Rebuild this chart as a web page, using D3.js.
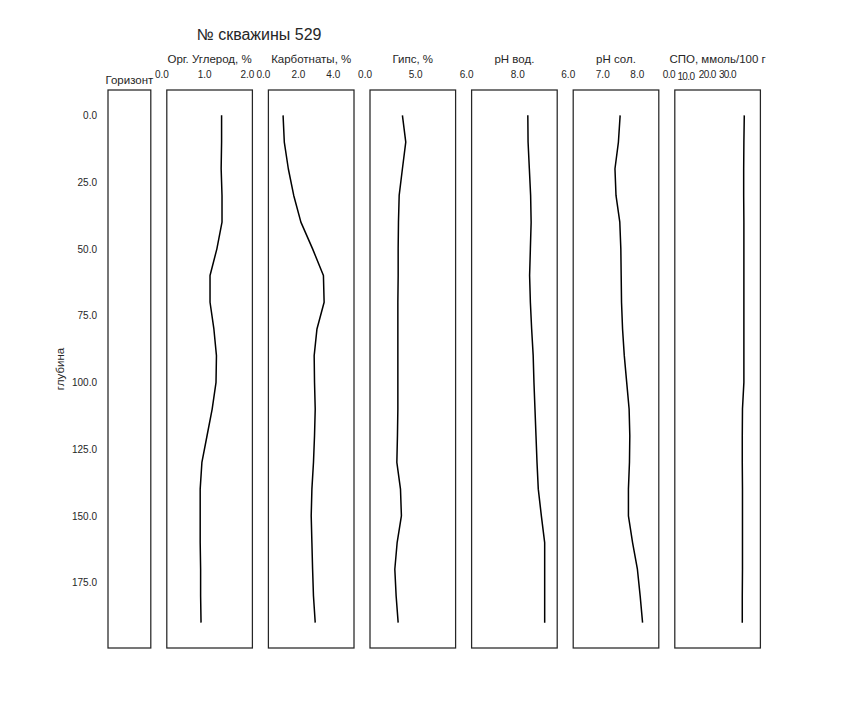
<!DOCTYPE html>
<html>
<head>
<meta charset="utf-8">
<script src="https://cdn.jsdelivr.net/npm/d3@7"></script>
<style>
  html, body { margin: 0; padding: 0; background: #ffffff; }
  svg { display: block; }
  text { font-family: "Liberation Sans", Arial, sans-serif; fill: #262626; }
</style>
</head>
<body>
<svg id="chart" width="864" height="720"></svg>
<script>
// ---------------- DATA ----------------
const wellTitle = "№ скважины 529";
const depthLabel = "глубина";
const horizonLabel = "Горизонт";

const depth = [0, 10, 20, 30, 40, 50, 60, 70, 80, 90, 100, 110, 120, 130, 140, 150, 160, 170, 180, 190];
const depthTicks = [0, 25, 50, 75, 100, 125, 150, 175];

const orgCarbon  = [1.28, 1.28, 1.27, 1.29, 1.29, 1.17, 1.01, 1.01, 1.10, 1.16, 1.15, 1.06, 0.94, 0.82, 0.78, 0.78, 0.78, 0.79, 0.79, 0.80];
const carbonates = [0.84, 0.91, 1.14, 1.45, 1.86, 2.53, 3.15, 3.19, 2.78, 2.62, 2.64, 2.68, 2.64, 2.58, 2.49, 2.45, 2.49, 2.53, 2.58, 2.68];
const gypsum     = [3.20, 3.53, 3.20, 2.88, 2.81, 2.78, 2.78, 2.75, 2.75, 2.75, 2.75, 2.75, 2.71, 2.65, 3.01, 3.10, 2.68, 2.45, 2.58, 2.78];
const phWater    = [8.20, 8.21, 8.26, 8.31, 8.33, 8.30, 8.27, 8.30, 8.35, 8.41, 8.44, 8.48, 8.52, 8.56, 8.61, 8.73, 8.86, 8.86, 8.86, 8.86];
const phSalt     = [7.36, 7.31, 7.21, 7.24, 7.35, 7.38, 7.39, 7.40, 7.43, 7.48, 7.55, 7.62, 7.64, 7.63, 7.60, 7.60, 7.72, 7.86, 7.94, 8.01];
const spo        = [34.5, 34.3, 34.2, 34.2, 34.3, 34.3, 34.3, 34.3, 34.3, 34.3, 34.3, 33.6, 33.5, 33.5, 33.6, 33.6, 33.6, 33.6, 33.5, 33.5];

const panelTitles = ["Орг. Углерод, %", "Карботнаты, %", "Гипс, %", "pH вод.", "pH сол.", "СПО, ммоль/100 г"];
const panelValues = [orgCarbon, carbonates, gypsum, phWater, phSalt, spo];
const panelDomains = [[0, 2.0], [0, 4.9], [0, 8.45], [6, 9.35], [6, 8.48], [0, 42.5]];
const panelTicks = [[0, 1, 2], [0, 2, 4], [0, 5], [6, 8], [6, 7, 8], [0, 10, 20, 30]];

// ---------------- LAYOUT ----------------
const svg = d3.select("#chart");
const plotTop = 90, plotBottom = 648;
const left0 = 108;
const panelW = 85.6, gap = 16.0;
const horizonW = panelW / 2;
const ink = "#262626";

const y = d3.scaleLinear().domain([-9.5, 199.5]).range([plotTop, plotBottom]);

// Title
svg.append("text")
  .attr("x", 259).attr("y", 39.5)
  .attr("text-anchor", "middle")
  .style("font-size", "16px")
  .text(wellTitle);

// Horizon panel (with depth axis)
const gH = svg.append("g");
gH.append("rect")
  .attr("x", left0).attr("y", plotTop)
  .attr("width", horizonW).attr("height", plotBottom - plotTop)
  .attr("fill", "none").attr("stroke", ink).attr("stroke-width", 1.25);
gH.append("text")
  .attr("x", left0 + horizonW / 2).attr("y", 84)
  .attr("text-anchor", "middle")
  .style("font-size", "11.5px")
  .text(horizonLabel);

const yAxis = d3.axisLeft(y)
  .tickValues(depthTicks)
  .tickFormat(d3.format(".1f"))
  .tickSize(0)
  .tickPadding(11);
const yg = svg.append("g").attr("transform", `translate(${left0},0)`).call(yAxis);
yg.select(".domain").remove();
yg.selectAll("text").style("font-size", "10px").attr("fill", ink)
  .style("font-family", '"Liberation Sans", Arial, sans-serif');

svg.append("text")
  .attr("transform", `translate(64,${(plotTop + plotBottom) / 2}) rotate(-90)`)
  .attr("text-anchor", "middle")
  .style("font-size", "11.5px")
  .text(depthLabel);

// Data panels
panelValues.forEach((vals, i) => {
  const x0 = left0 + horizonW + gap + i * (panelW + gap);
  const x = d3.scaleLinear().domain(panelDomains[i]).range([x0, x0 + panelW]);
  const g = svg.append("g");

  g.append("rect")
    .attr("x", x0).attr("y", plotTop)
    .attr("width", panelW).attr("height", plotBottom - plotTop)
    .attr("fill", "none").attr("stroke", ink).attr("stroke-width", 1.25);

  const line = d3.line()
    .x((d, j) => x(d))
    .y((d, j) => y(depth[j]));
  g.append("path")
    .datum(vals)
    .attr("d", line)
    .attr("fill", "none")
    .attr("stroke", "#000")
    .attr("stroke-width", 1.5)
    .attr("stroke-linejoin", "round");

  const last = i === panelValues.length - 1;
  const xAxis = d3.axisTop(x)
    .tickValues(panelTicks[i])
    .tickFormat(d3.format(".1f"))
    .tickSize(0)
    .tickPadding(12);
  const ag = svg.append("g").attr("transform", `translate(0,${plotTop})`).call(xAxis);
  ag.select(".domain").remove();
  const lab = ag.selectAll("text")
    .attr("fill", ink)
    .style("font-size", "10px")
    .style("font-family", '"Liberation Sans", Arial, sans-serif');
  if (last) {
    lab.attr("text-anchor", "middle")
      .style("letter-spacing", "-0.6px")
      .attr("dx", (d, k) => k === 0 ? -6.5 : (k === 1 ? -9.5 : -8.3))
      .attr("dy", (d, k) => k === 1 ? 1.5 : 0);
  } else {
    lab.attr("text-anchor", "end").attr("dx", 1.5);
  }

  g.append("text")
    .attr("x", x0 + panelW / 2).attr("y", 63)
    .attr("text-anchor", "middle")
    .style("font-size", "11.5px")
    .text(panelTitles[i]);
});
</script>
</body>
</html>
